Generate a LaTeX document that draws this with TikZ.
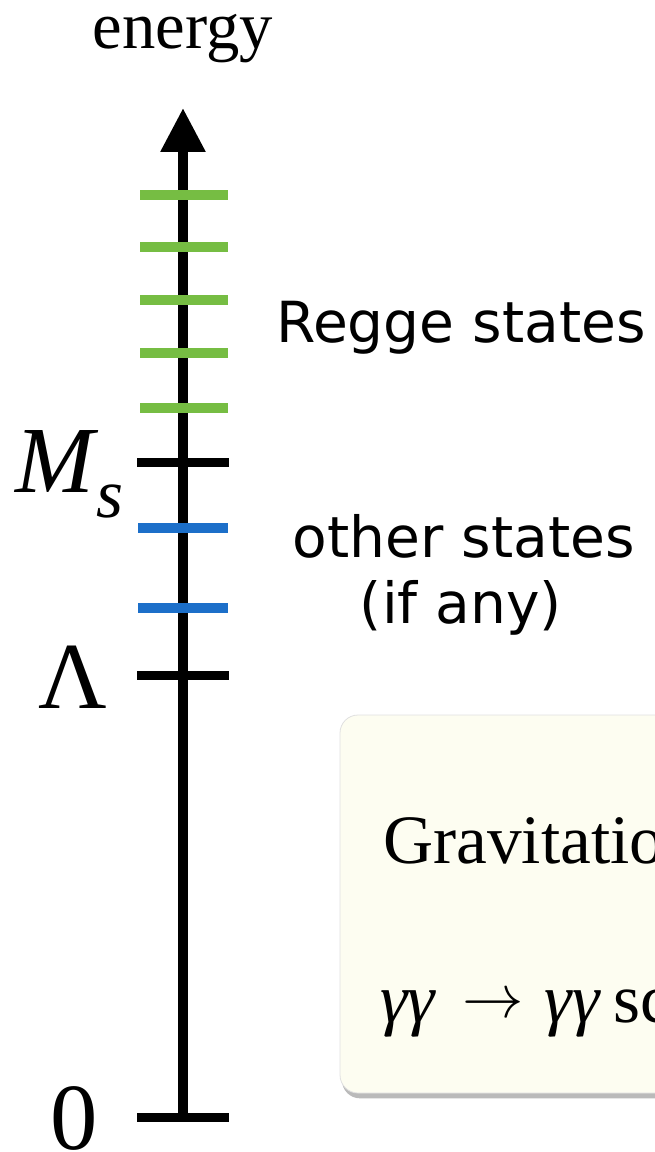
\documentclass[tikz,border=0pt]{standalone}
\usepackage{fontspec}
\setmainfont{Liberation Serif}
\newfontfamily\labelsans{DejaVu Sans}
\definecolor{ReggeGreen}{HTML}{76BD43}
\definecolor{StateBlue}{HTML}{1C6FC9}
\definecolor{BoxIvory}{HTML}{FDFDF1}
\usepackage{tikz}
\usetikzlibrary{arrows.meta, shadows}

\begin{document}
\begin{tikzpicture}[
    x=0.75pt, y=-0.75pt,
    axis/.style={line width=7.5pt, -{Triangle[length=33pt, width=32pt]}},
    tickmark/.style={line width=6.75pt},
    regge/.style={line width=7.5pt, ReggeGreen},
    otherlvl/.style={line width=7.5pt, StateBlue},
    scalelbl/.style={inner sep=0pt, anchor=base west, font=\fontsize{71}{71}\selectfont},
    sanslbl/.style={inner sep=0pt, anchor=base, font=\labelsans\fontsize{42.5}{42.5}\selectfont},
    boxtxt/.style={inner sep=0pt, anchor=base west, font=\fontsize{52}{52}\selectfont},
    gbox/.style={fill=BoxIvory, draw=black!12, line width=0.6pt, rounded corners=13.5pt,
        drop shadow={shadow xshift=1.5pt, shadow yshift=-4pt, opacity=0.45, fill=black!60}}
]
    \useasboundingbox (0,0) rectangle (654,1152);

    % axis
    \coordinate (origin) at (183,1121);
    \coordinate (top) at (183,108);
    \draw[axis] (origin) -- (top);
    \node[inner sep=0pt, anchor=base, font=\fontsize{50}{50}\selectfont] (energy) at (183,49) {energy};

    % scale marks
    \draw[tickmark] (137,462) -- (229,462);
    \draw[tickmark] (137,675) -- (229,675);
    \draw[tickmark] (137,1117) -- (229,1117);
    \node[scalelbl] (ms) at (15,492) {\itshape M};
    \node[inner sep=0pt, anchor=base west, font=\itshape\fontsize{52}{52}\selectfont] (mssub) at (96,517) {s};
    \node[scalelbl] (lambda) at (38,708) {Λ};
    \node[scalelbl] (zero) at (50,1149) {0};

    % states
    \foreach \y in {195,247,300,353,408}
        \draw[regge] (140,\y) -- (228,\y);
    \foreach \y in {528,608}
        \draw[otherlvl] (138,\y) -- (228,\y);
    \node[sanslbl] (regge) at (461,342) {Regge states};
    \node[sanslbl] (other) at (464,557) {other states};
    \node[sanslbl] (ifany) at (461,623) {(if any)};

    % box
    \draw[gbox] (340,715) rectangle (720,1093);
    \node[boxtxt] (grav) at (383,863) {Gravitation};
    \node[boxtxt] (scat) at (380,1022) {\itshape γγ\hspace{0.4em}\raisebox{3.5pt}{\scalebox{4.6}{\normalsize$\rightarrow$}}\hspace{0.3em}γγ\hspace{0.2em}\upshape sc};
\end{tikzpicture}
\end{document}
